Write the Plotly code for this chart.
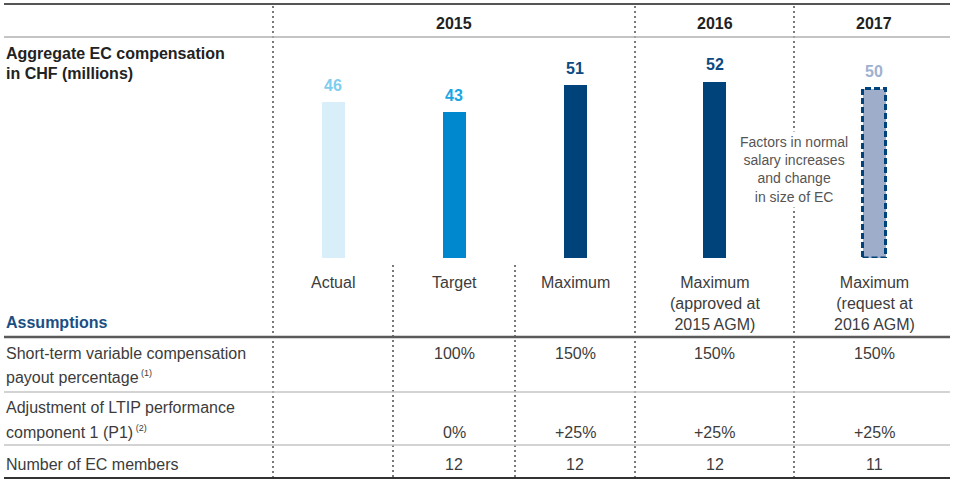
import plotly.graph_objects as go

W, H = 954, 479

# ---------------- data ----------------
years = ["2015", "2016", "2017"]
year_spans = [(0, 3), (3, 4), (4, 5)]          # which columns each year covers
categories = ["Actual", "Target", "Maximum",
              "Maximum<br>(approved at<br>2015 AGM)",
              "Maximum<br>(request at<br>2016 AGM)"]
values = [46, 43, 51, 52, 50]
stvc_payout = ["", "100%", "150%", "150%", "150%"]
ltip_adjust = ["", "0%", "+25%", "+25%", "+25%"]
ec_members = ["", "12", "12", "12", "11"]
row_labels = [
    ["Short-term variable compensation",
     "payout percentage<sup><span style='font-size:9px'> (1)</span></sup>"],
    ["Adjustment of LTIP performance",
     "component 1 (P1)<sup><span style='font-size:9px'> (2)</span></sup>"],
    ["Number of EC members"],
]
chart_title = ["Aggregate EC compensation", "in CHF (millions)"]
note_text = "Factors in normal<br>salary increases<br>and change<br>in size of EC"

# ---------------- style ----------------
FONT = "Liberation Sans, Arial, Helvetica, sans-serif"
bar_colors = ["#d8eef8", "#0088cf", "#00437a", "#00437a", "#9dadca"]
label_colors = ["#7fcdee", "#1aa6e4", "#0b4a82", "#0b4a82", "#9fb1d0"]
dash_border = "#00437a"
TXT = "#3c3c3c"
DARK = "#222222"

col_edges = [273, 393, 515, 635, 794, 954]
centers = [(col_edges[i] + col_edges[i + 1]) / 2 for i in range(5)]
base_px = 258            # bar baseline (pixels from top)
px_per_unit = 3.39
bar_w = 23


def py(y):
    return 1 - y / H


def px(x):
    return x / W


fig = go.Figure()
fig.add_trace(go.Bar(
    x=centers, y=values, width=bar_w,
    marker=dict(color=bar_colors, line=dict(width=0)),
    hoverinfo="skip", showlegend=False,
))

shapes = []
# dashed outline on the requested 2017 bar
shapes.append(dict(type="rect", xref="x", yref="y",
                   x0=centers[4] - bar_w / 2, x1=centers[4] + bar_w / 2,
                   y0=0, y1=values[4],
                   line=dict(color=dash_border, width=3, dash="6px,3px")))

# horizontal rules
def hline(y, color, width):
    shapes.append(dict(type="line", xref="paper", yref="paper",
                       x0=px(4), x1=px(950), y0=py(y), y1=py(y),
                       line=dict(color=color, width=width), layer="above"))

hline(4, "#555555", 2)
hline(37, "#b0b0b0", 1.3)
hline(337, "#5a5a5a", 2.5)
hline(392, "#c4c4c4", 1.5)
hline(445, "#c4c4c4", 1.5)
hline(478, "#333333", 2)

# dotted vertical separators
def vline(x, y0, y1):
    shapes.append(dict(type="line", xref="paper", yref="paper",
                       x0=px(x), x1=px(x), y0=py(y0), y1=py(y1),
                       line=dict(color="#333333", width=1.3, dash="2px,3px"),
                       layer="below"))

for e in (col_edges[0], col_edges[3], col_edges[4]):
    vline(e, 6, 479)
for e in (col_edges[1], col_edges[2]):
    vline(e, 265, 479)

ann = []

def text(x, y, s, size=16, color=TXT, xanchor="center", bold=False, **kw):
    if bold:
        s = "<b>" + s + "</b>"
    ann.append(dict(x=px(x), y=py(y), xref="paper", yref="paper", text=s,
                    showarrow=False, xanchor=xanchor, yanchor="middle",
                    font=dict(family=FONT, size=size, color=color), **kw))

# year headers
for yr, (a, b) in zip(years, year_spans):
    text((col_edges[a] + col_edges[b]) / 2, 23.5, yr, size=16, color=DARK, bold=True)

# chart title
text(4, 53, chart_title[0], size=16, color=DARK, xanchor="left", bold=True)
text(4, 73, chart_title[1], size=16, color=DARK, xanchor="left", bold=True)

# value labels above bars (from data)
for c, v, col in zip(centers, values, label_colors):
    ann.append(dict(x=c, y=v, xref="x", yref="y", text="<b>%d</b>" % v,
                    showarrow=False, xanchor="center", yanchor="middle", yshift=17,
                    font=dict(family=FONT, size=16, color=col)))

# category labels
for c, cat in zip(centers, categories):
    ann.append(dict(x=px(c), y=py(272), xref="paper", yref="paper", text=cat,
                    showarrow=False, xanchor="center", yanchor="top",
                    font=dict(family=FONT, size=16, color=TXT)))

# note
ann.append(dict(x=px(col_edges[4]), y=py(169), xref="paper", yref="paper",
                text=note_text, showarrow=False, xanchor="center", yanchor="middle",
                bgcolor="white", borderpad=2,
                font=dict(family=FONT, size=14, color="#555555")))

# Assumptions
text(4, 322, "Assumptions", size=16, color="#1a4f84", xanchor="left", bold=True)

# row labels
row_y = [[353, 377], [407, 432], [464]]
for labels, ys in zip(row_labels, row_y):
    for s, y in zip(labels, ys):
        text(4, y, s, size=16, xanchor="left")

# row values
for vals, y in zip([stvc_payout, ltip_adjust, ec_members], [353, 432, 464]):
    for c, s in zip(centers, vals):
        if s:
            text(c, y, s, size=16)

fig.update_layout(
    width=W, height=H,
    margin=dict(l=0, r=0, t=0, b=0),
    paper_bgcolor="white", plot_bgcolor="rgba(0,0,0,0)",
    xaxis=dict(range=[0, W], visible=False, fixedrange=True),
    yaxis=dict(domain=[py(base_px), 1], range=[0, base_px / px_per_unit],
               visible=False, fixedrange=True),
    shapes=shapes, annotations=ann, bargap=0,
    showlegend=False,
)

fig.write_html("out.html",
               config={"displayModeBar": False, "staticPlot": True},
               post_script="document.body.style.margin='0';"
                           "document.body.style.overflow='hidden';")
